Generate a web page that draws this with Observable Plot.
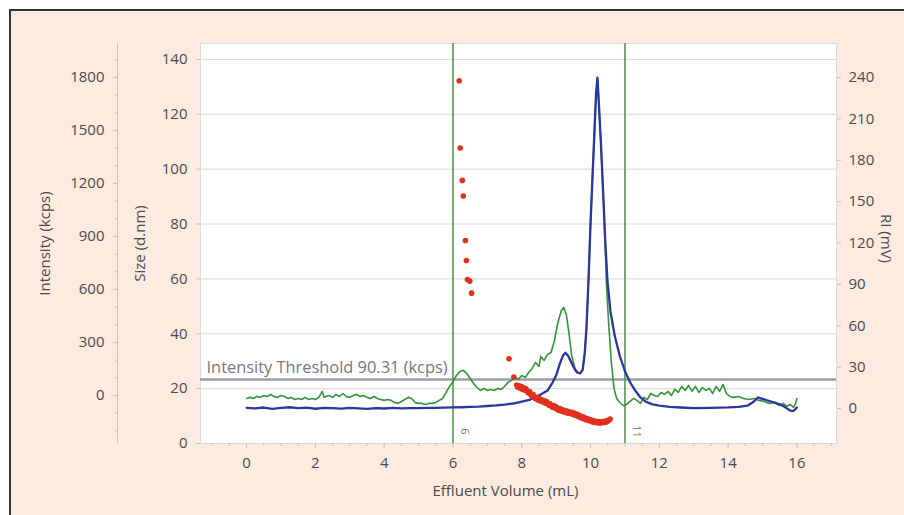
<!DOCTYPE html>
<html>
<head>
<meta charset="utf-8">
<script src="https://cdn.jsdelivr.net/npm/d3@7"></script>
<script src="https://cdn.jsdelivr.net/npm/@observablehq/plot@0.6"></script>
<style>
  html, body { margin: 0; padding: 0; background: #ffffff; }
  #page { position: relative; width: 904px; height: 515px; overflow: hidden; }
  #panel { position: absolute; left: 9px; top: 9px; width: 920px; height: 530px;
           background: #fdebe0; border-left: 2px solid #333; border-top: 2px solid #333; }
  #chart { position: absolute; left: 0; top: 0; }
</style>
</head>
<body>
<div id="page">
  <div id="panel"></div>
  <div id="chart"></div>
</div>
<script>
// Light scattering intensity (green), kcps
const greenVolume = [0.0,0.1,0.2,0.3,0.4,0.5,0.6,0.7,0.8,0.9,1.0,1.1,1.2,1.3,1.4,1.5,1.6,1.7,1.8,1.9,2.0,2.1,2.2,2.25,2.3,2.4,2.5,2.6,2.7,2.8,2.9,3.0,3.1,3.2,3.3,3.4,3.5,3.6,3.7,3.8,3.9,4.0,4.1,4.2,4.3,4.4,4.5,4.6,4.7,4.8,4.9,5.0,5.1,5.2,5.3,5.4,5.5,5.6,5.7,5.8,5.9,6.0,6.1,6.2,6.3,6.4,6.5,6.6,6.7,6.8,6.9,7.0,7.1,7.2,7.3,7.4,7.5,7.6,7.7,7.8,7.9,8.0,8.1,8.2,8.3,8.4,8.5,8.55,8.65,8.75,8.85,8.95,9.05,9.15,9.22,9.3,9.38,9.45,9.55,9.63,9.7,9.77,9.83,9.88,9.94,10.0,10.06,10.12,10.16,10.2,10.24,10.3,10.36,10.42,10.46,10.52,10.6,10.68,10.76,10.85,10.95,11.05,11.15,11.25,11.35,11.45,11.55,11.65,11.75,11.85,11.95,12.05,12.15,12.25,12.35,12.45,12.55,12.65,12.75,12.85,12.95,13.05,13.15,13.25,13.35,13.45,13.55,13.65,13.75,13.85,13.95,14.05,14.15,14.3,14.45,14.6,14.75,14.9,15.05,15.2,15.35,15.5,15.6,15.7,15.8,15.9,15.95,16.0];
const greenKcps = [-17,-11,-17,-6,-11,0,-6,6,-6,-11,0,-6,-17,-11,-23,-17,-23,-11,-23,-17,-23,-11,23,-11,-6,0,-11,6,-6,11,-6,-11,0,6,-6,0,-11,-17,-6,-17,-23,-28,-23,-28,-40,-45,-34,-23,-11,-17,-40,-45,-45,-51,-45,-45,-40,-28,-17,17,51,79,113,136,142,125,96,68,45,28,40,28,34,28,40,34,51,74,85,102,91,113,102,130,153,187,164,221,198,232,243,311,413,481,498,453,340,226,150,128,126,145,239,379,652,980,1253,1527,1706,1790,1650,1425,1170,880,640,425,198,40,-17,-40,-57,-51,-34,-17,-28,-45,-11,-23,11,0,-6,17,6,23,0,34,17,51,28,57,23,51,17,45,28,40,11,51,23,62,11,-6,-11,-6,-17,-23,-17,-28,-34,-45,-40,-57,-45,-62,-51,-68,-51,-17];

// Refractive index detector (blue), mV
const riVolume = [0.0,0.25,0.5,0.75,1.0,1.25,1.5,1.75,2.0,2.25,2.5,2.75,3.0,3.25,3.5,3.75,4.0,4.25,4.5,4.75,5.0,5.25,5.5,5.75,6.0,6.25,6.5,6.75,7.0,7.25,7.5,7.75,8.0,8.25,8.5,8.75,8.9,9.0,9.1,9.2,9.27,9.35,9.45,9.55,9.62,9.7,9.77,9.83,9.88,9.94,10.0,10.06,10.12,10.16,10.2,10.24,10.3,10.36,10.42,10.49,10.58,10.7,10.85,11.0,11.15,11.3,11.45,11.6,11.8,12.0,12.3,12.62,13.0,13.5,14.0,14.3,14.56,14.75,14.86,15.0,15.15,15.35,15.5,15.65,15.8,15.9,16.0];
const riMv = [0.5,0.0,0.7,-0.3,0.4,0.9,0.2,0.6,-0.2,0.5,0.3,-0.1,0.4,0.1,-0.3,0.2,0.0,0.4,0.1,0.3,0.2,0.5,0.4,0.6,0.8,0.9,1.1,1.3,1.8,2.2,2.8,3.6,5.0,6.5,9.5,13,19,24,32,38.5,40.5,38,33,28,26,25.5,28,40,58,93,135,170,205,228,240,222,193,160,125,93,70,53,38,27,19,13,8,5,3,2,1.2,0.7,0.3,0.5,0.8,1.2,2,5,8,7,5.8,4.2,3,1,-1.5,-1.8,0.7];

// Hydrodynamic size (red dots), d.nm
const sizeVolume = [6.18,6.21,6.27,6.30,6.36,6.39,6.42,6.49,6.54,7.63,7.77,
  7.85,7.88,7.92,7.95,7.99,8.02,8.05,8.09,8.12,8.16,8.19,8.23,8.26,8.30,8.33,8.37,8.40,8.44,8.47,8.51,8.54,8.58,8.61,8.65,8.68,8.72,8.75,8.79,8.82,8.86,8.89,8.93,8.96,9.00,9.03,9.07,9.10,9.14,9.17,9.21,9.24,9.28,9.31,9.35,9.38,9.42,9.45,9.49,9.52,9.56,9.59,9.63,9.66,9.70,9.73,9.77,9.80,9.84,9.87,9.91,9.94,9.98,10.01,10.05,10.08,10.12,10.15,10.19,10.22,10.26,10.29,10.33,10.36,10.40,10.43,10.47,10.50,10.54,10.57];
const sizeDnm = [132.2,107.7,95.9,90.2,74.0,66.7,59.8,59.2,54.8,30.9,24.2,
  21.3,20.6,21.0,20.2,20.8,19.8,20.3,19.4,19.9,19.0,18.4,18.9,17.9,17.2,17.8,16.9,16.3,16.8,15.9,16.4,15.5,15.9,15.2,15.6,14.8,15.3,14.6,14.0,14.5,13.7,13.2,13.8,12.9,13.4,12.6,12.1,12.7,11.9,12.4,11.6,12.0,11.3,11.8,11.0,11.5,10.9,11.4,10.6,11.1,10.3,10.7,9.9,10.4,9.5,9.9,9.1,9.6,8.8,9.2,8.5,8.9,8.2,8.6,7.9,8.3,7.7,8.1,7.6,8.0,7.5,7.9,7.6,8.0,7.7,8.2,7.9,8.4,8.6,8.9];

// Axes
const volumeTicks = [0, 2, 4, 6, 8, 10, 12, 14, 16];
const sizeTicks = [0, 20, 40, 60, 80, 100, 120, 140];
const intensityTicks = [0, 300, 600, 900, 1200, 1500, 1800];
const riTicks = [0, 30, 60, 90, 120, 150, 180, 210, 240];
const markerVolumes = [6, 11];
const thresholdKcps = 90.31;

const volumeDomain = [-1.34, 17.15];
const sizeDomain = [0, 145.8];
const intensityDomain = [-272, 1992];
const riDomain = [-25.4, 264.7];

// Intensity and RI share the plot with the size scale; map them onto it
const kcpsToSize = d3.scaleLinear(intensityDomain, sizeDomain);
const riToSize = d3.scaleLinear(riDomain, sizeDomain);

const green = greenVolume.map((v, i) => ({v, y: kcpsToSize(greenKcps[i])}));
const blue = riVolume.map((v, i) => ({v, y: riToSize(riMv[i])}));
const red = sizeVolume.map((v, i) => ({v, s: sizeDnm[i]}));

const minorVolume = d3.range(-1, 17.01, 0.5);
const minorIntensity = d3.range(-200, 1901, 100);

const textColor = "#4a4a4a";
const tickColor = "#c4c4c4";

const chart = Plot.plot({
  width: 904,
  height: 515,
  marginLeft: 200,
  marginRight: 68,
  marginTop: 43,
  marginBottom: 72,
  x: {domain: volumeDomain},
  y: {domain: sizeDomain},
  style: {background: "transparent", fontFamily: "'Open Sans', sans-serif", fontSize: "15px", color: textColor},
  marks: [
    Plot.frame({fill: "#ffffff", stroke: "#dcdcdc"}),
    Plot.gridY(sizeTicks, {stroke: "#d9d9d9", strokeOpacity: 1}),
    Plot.ruleY([thresholdKcps], {y: d => kcpsToSize(d), stroke: "#9d9daa", strokeWidth: 2.5}),
    Plot.text([`Intensity Threshold ${thresholdKcps} (kcps)`], {
      y: () => kcpsToSize(thresholdKcps), frameAnchor: "left", textAnchor: "start",
      dx: 6, dy: -12, fill: "#777780", fontSize: 16.4
    }),
    Plot.ruleX(markerVolumes, {stroke: "#5c9350", strokeWidth: 1.6}),
    Plot.text(markerVolumes, {
      x: d => d, text: d => String(d), frameAnchor: "bottom", rotate: 90,
      dx: 8, dy: -12, fill: "#4f8f45", fontSize: 11
    }),
    Plot.line(green, {x: "v", y: "y", stroke: "#33953a", strokeWidth: 1.6}),
    Plot.line(blue, {x: "v", y: "y", stroke: "#2b36a0", strokeWidth: 2.3}),
    Plot.dot(red, {x: "v", y: "s", r: 2.8, fill: "#e2301f", stroke: "none"}),

    // Effluent volume axis
    Plot.axisX(minorVolume, {tickSize: 3, stroke: tickColor, tickFormat: () => "", label: null}),
    Plot.axisX(volumeTicks, {tickSize: 5, tickPadding: 9, stroke: tickColor, fill: textColor, label: null}),
    Plot.text(["Effluent Volume (mL)"], {frameAnchor: "bottom", dx: -13, dy: 52, fill: textColor, fontSize: 15}),

    // Size axis
    Plot.axisY(sizeTicks, {anchor: "left", tickSize: 4, tickPadding: 9, stroke: tickColor, fill: textColor, label: null}),
    Plot.text(["Size (d.nm)"], {frameAnchor: "left", textAnchor: "middle", dx: -60, rotate: -90, fill: textColor, fontSize: 15}),

    // Intensity axis, offset to the left of the size axis
    Plot.ruleX([volumeDomain[0]], {dx: -83, stroke: tickColor}),
    Plot.axisY(minorIntensity.map(kcpsToSize), {anchor: "left", dx: -83, tickSize: 2, stroke: tickColor, tickFormat: () => "", label: null}),
    Plot.axisY(intensityTicks.map(kcpsToSize), {
      anchor: "left", dx: -83, tickSize: 4, tickPadding: 9, stroke: tickColor, fill: textColor,
      tickFormat: d => String(Math.round(kcpsToSize.invert(d))), label: null
    }),
    Plot.text(["Intensity (kcps)"], {frameAnchor: "left", textAnchor: "middle", dx: -155, rotate: -90, fill: textColor, fontSize: 15}),

    // RI axis
    Plot.axisY(riTicks.map(riToSize), {
      anchor: "right", tickSize: 4, tickPadding: 8, stroke: tickColor, fill: textColor,
      tickFormat: d => String(Math.round(riToSize.invert(d))), label: null
    }),
    Plot.text(["RI (mV)"], {frameAnchor: "right", textAnchor: "middle", dx: 49, dy: -5, rotate: 90, fill: textColor, fontSize: 15})
  ]
});

document.getElementById("chart").append(chart);
</script>
</body>
</html>
